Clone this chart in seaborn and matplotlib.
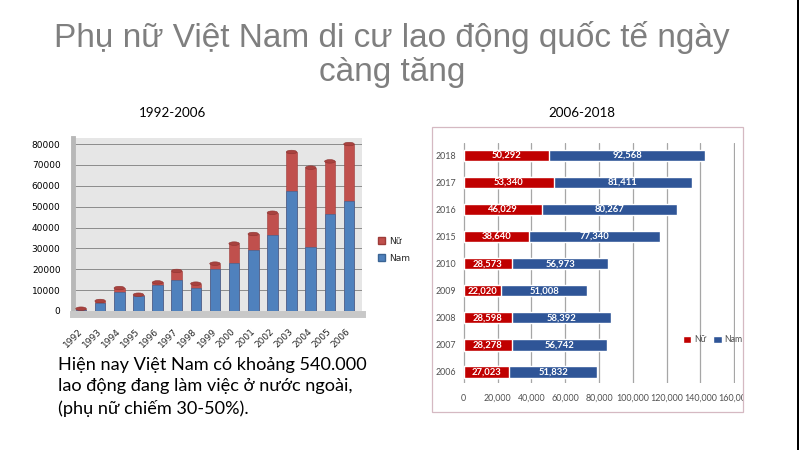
import matplotlib
matplotlib.use("Agg")
import matplotlib.pyplot as plt
import seaborn as sns
import numpy as np
import pandas as pd
from matplotlib.patches import Rectangle, Ellipse, Patch

# ---- data: 1992-2006 ----
years_a = [str(y) for y in range(1992, 2007)]
nam_a = [600, 3700, 8900, 7300, 12300, 14700, 11000, 20100, 22800, 29100, 36300, 57700, 30500, 46600, 52700]
nu_a = [500, 1100, 2100, 500, 1400, 4500, 2100, 2600, 9500, 7800, 10800, 18500, 38200, 25100, 27300]

# ---- data: 2006-2018 ----
years_b = ["2006", "2007", "2008", "2009", "2010", "2015", "2016", "2017", "2018"]
nu_b = [27023, 28278, 28598, 22020, 28573, 38640, 46029, 53340, 50292]
nam_b = [51832, 56742, 58392, 51008, 56973, 77340, 80267, 81411, 92568]

title_lines = ["Phụ nữ Việt Nam di cư lao động quốc tế ngày", "càng tăng"]
sub_a = "1992-2006"
sub_b = "2006-2018"
note = "Hiện nay Việt Nam có khoảng 540.000\nlao động đang làm việc ở nước ngoài,\n(phụ nữ chiếm 30-50%)."
legend_labels = ["Nữ", "Nam"]

sns.set_style("white")
plt.rcParams["font.family"] = ["DejaVu Sans"]

W, H = 799, 450
fig = plt.figure(figsize=(W / 100, H / 100), dpi=100)
fig.patch.set_facecolor("white")

def fx(px):
    return px / W

def fy(py):
    return 1 - py / H

# Title
fig.text(fx(392), fy(38), title_lines[0], ha="center", va="center",
         fontsize=24, color="#7f7f7f", family=["Liberation Sans", "DejaVu Sans"])
fig.text(fx(392), fy(73), title_lines[1], ha="center", va="center",
         fontsize=24, color="#7f7f7f", family=["Liberation Sans", "DejaVu Sans"])
fig.text(fx(173), fy(113), sub_a, ha="center", va="center", fontsize=9.6,
         color="black", family=["Lato", "DejaVu Sans"])
fig.text(fx(582), fy(113), sub_b, ha="center", va="center", fontsize=9.6,
         color="black", family=["Lato", "DejaVu Sans"])
fig.text(fx(58), fy(357), note, ha="left", va="top", fontsize=13.1, linespacing=1.42,
         color="black", family=["Lato", "DejaVu Sans"])

# slide edge line on the right
fig.add_artist(Rectangle((fx(796.5), 0), fx(3), 1, transform=fig.transFigure,
                         facecolor="black", edgecolor="none"))

# ---------------- left chart ----------------
red_a = "#C0504D"
blue_a = "#4F81BD"
df_a = pd.DataFrame({"year": years_a, "Nam": nam_a, "Nu": nu_a})
df_a["total"] = df_a["Nam"] + df_a["Nu"]

ax1 = fig.add_axes([fx(73), fy(311), fx(362) - fx(73), fy(138) - fy(311)])
ax1.set_facecolor("#E6E6E6")
sns.barplot(data=df_a, x="year", y="total", color=red_a, width=0.55, saturation=1,
            errorbar=None, ax=ax1, edgecolor="#9E3B38", linewidth=0.4)
sns.barplot(data=df_a, x="year", y="Nam", color=blue_a, width=0.55, saturation=1,
            errorbar=None, ax=ax1, edgecolor="#3A6494", linewidth=0.4)
# cylinder caps
for i, tot in enumerate(df_a["total"]):
    ax1.add_patch(Ellipse((i, tot), 0.55, 1700, facecolor="#A8423F",
                          edgecolor="#8E3431", lw=0.4, zorder=5))
ax1.set_ylim(0, 82900)
ax1.set_xlim(-0.42, 14.68)
ax1.tick_params(axis="y", labelsize=6.5, length=0, pad=9, colors="black")
ax1.tick_params(axis="x", labelsize=6.5, length=0, pad=11, labelrotation=45)
ax1.set_yticks(np.arange(0, 80001, 10000))
ax1.set_yticklabels([str(v) for v in range(0, 80001, 10000)])
ax1.set_xticks(range(len(years_a)))
ax1.set_xticklabels(years_a)
ax1.yaxis.grid(True, color="#8C8C8C", lw=0.7)
ax1.set_axisbelow(True)
ax1.set_xlabel("")
ax1.set_ylabel("")
for s in ["top", "right"]:
    ax1.spines[s].set_visible(False)
ax1.spines["left"].set_color("#B8B8B8")
ax1.spines["left"].set_linewidth(3.5)
ax1.spines["bottom"].set_color("#C8C8C8")
ax1.spines["bottom"].set_linewidth(5)
ax1.spines["bottom"].set_position(("outward", 2.5))

h1 = [Patch(facecolor=red_a, edgecolor="#9E3B38"), Patch(facecolor=blue_a, edgecolor="#3A6494")]
fig.legend(h1, legend_labels, loc="center left", bbox_to_anchor=(fx(370), fy(250)),
           frameon=False, fontsize=6.5, handlelength=0.8, handleheight=0.8,
           handletextpad=0.4, labelspacing=0.9)

# ---------------- right chart ----------------
red_b = "#C00000"
blue_b = "#2F5597"
box = Rectangle((fx(432), fy(412)), fx(743) - fx(432), fy(127) - fy(412),
                transform=fig.transFigure, fill=False, edgecolor="#D5B9C2", lw=0.9)
fig.add_artist(box)

df_b = pd.DataFrame({"year": years_b, "Nu": nu_b, "Nam": nam_b})
df_b["total"] = df_b["Nu"] + df_b["Nam"]
order = years_b[::-1]

ax2 = fig.add_axes([fx(463), fy(383), fx(735) - fx(463), fy(143) - fy(383)])
sns.barplot(data=df_b, y="year", x="total", order=order, color=blue_b, orient="h",
            width=0.42, saturation=1, errorbar=None, ax=ax2)
sns.barplot(data=df_b, y="year", x="Nu", order=order, color=red_b, orient="h",
            width=0.42, saturation=1, errorbar=None, ax=ax2)
ax2.set_ylim(8.41, -0.46)
ax2.set_xlim(-400, 160400)
ax2.set_xticks(np.arange(0, 160001, 20000))
ax2.set_xticklabels([f"{v:,}" for v in range(0, 160001, 20000)])
ax2.xaxis.grid(True, color="#A6A6A6", lw=0.9)
ax2.set_axisbelow(True)
ax2.set_xlabel("")
ax2.set_ylabel("")
for s in ax2.spines.values():
    s.set_visible(False)
ax2.tick_params(axis="both", length=0, labelsize=6.4, colors="#505050")
ax2.tick_params(axis="x", pad=8)
ax2.tick_params(axis="y", pad=5)
for lbl in ax2.get_xticklabels() + ax2.get_yticklabels():
    lbl.set_family(["Lato", "DejaVu Sans"])
for lbl in ax2.get_xticklabels():
    lbl.set_clip_on(True)
    lbl.set_clip_path(box)

dfo = df_b.set_index("year").loc[order]
for i, (nu, nam) in enumerate(zip(dfo["Nu"], dfo["Nam"])):
    ax2.text(nu / 2, i, f"{nu:,}", ha="center", va="center", color="white",
             fontsize=6.8, fontweight="bold", family=["Lato", "DejaVu Sans"])
    ax2.text(nu + nam / 2, i, f"{nam:,}", ha="center", va="center", color="white",
             fontsize=6.8, fontweight="bold", family=["Lato", "DejaVu Sans"])

h2 = [Patch(facecolor=red_b), Patch(facecolor=blue_b)]
leg2 = fig.legend(h2, legend_labels, loc="center left", bbox_to_anchor=(fx(675), fy(340)),
                  frameon=False, ncol=2, fontsize=6.2, handlelength=1.0, handleheight=1.0,
                  handletextpad=0.3, columnspacing=0.8)
for t in leg2.get_texts():
    t.set_color("#505050")
    t.set_family(["Lato", "DejaVu Sans"])

# final orientation of the rotated year labels
for lbl in ax1.get_xticklabels():
    lbl.set_rotation(45)
    lbl.set_horizontalalignment("right")
    lbl.set_verticalalignment("center")
    lbl.set_rotation_mode("anchor")

fig.savefig("out.png", dpi=100)
